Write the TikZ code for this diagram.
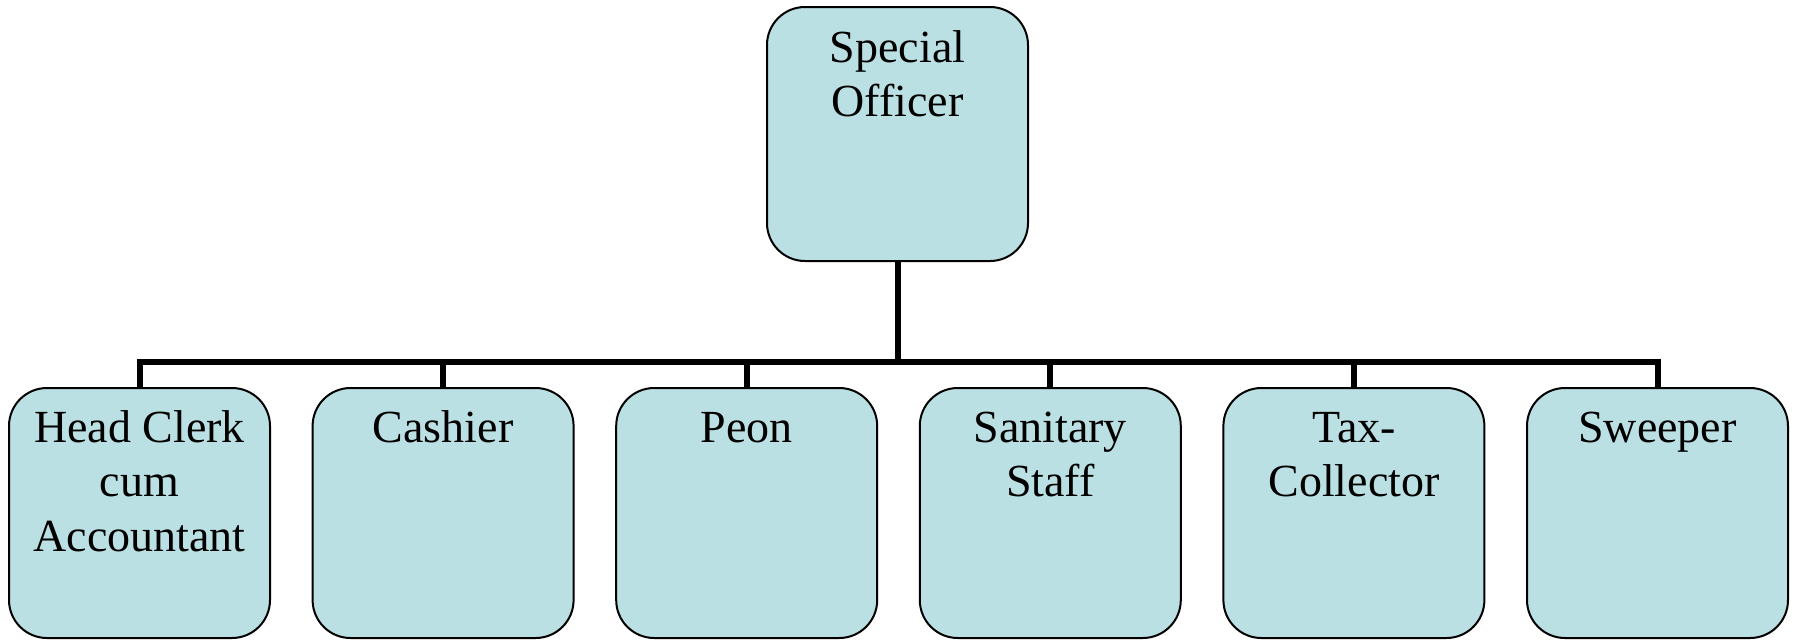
\documentclass[tikz,border=0pt]{standalone}
\usepackage{fontspec}
\setmainfont{Liberation Serif}
\definecolor{boxfill}{RGB}{187,224,227}
\begin{document}
\begin{tikzpicture}[x=0.5pt,y=-0.5pt,
  orgbox/.style={draw=black, line width=1pt, fill=boxfill, rounded corners=19pt,
    minimum width=130.5pt, inner sep=0pt},
  childbox/.style={orgbox, minimum height=125pt},
  caption/.style={anchor=base, inner sep=0pt, font=\fontsize{23}{27.3}\selectfont},
  conn/.style={draw=black, line width=3pt}]
\useasboundingbox (0,0) rectangle (1796,639);

% head of the office
\node[orgbox, minimum height=127pt] (so) at (897.5,134) {};
\node[caption] at ([yshift=-28pt]so.north) {\parbox[t]{125pt}{\centering Special\\Officer}};

% subordinate staff
\foreach \n/\x/\t in {hc/139.5/{Head Clerk\\cum\\Accountant},
                      ca/443.1/{Cashier},
                      pe/746.7/{Peon},
                      ss/1050.3/{Sanitary\\Staff},
                      tc/1353.9/{Tax-\\Collector},
                      sw/1657.5/{Sweeper}}{
  \node[childbox] (\n) at (\x,513) {};
  \node[caption] at ([yshift=-27.5pt]\n.north) {\parbox[t]{125pt}{\centering \t}};
}

% reporting lines
\coordinate (junction) at (897.5,362);
\draw[conn] (so) -- (junction);
\foreach \n in {hc,ca,pe,ss,tc,sw}
  \draw[conn] (junction) -| (\n);
\end{tikzpicture}
\end{document}
